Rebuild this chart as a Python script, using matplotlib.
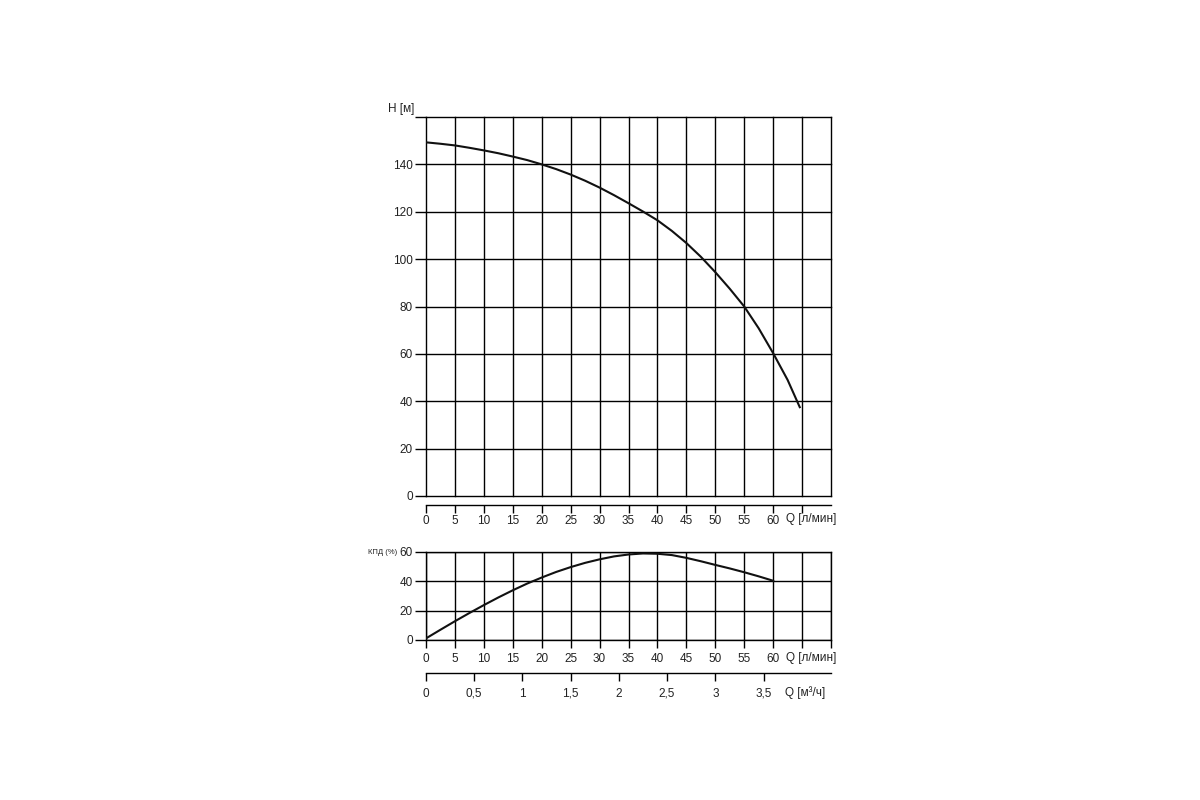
import matplotlib
matplotlib.use("Agg")
import matplotlib.pyplot as plt

plt.rcParams["font.family"] = ["Liberation Sans", "DejaVu Sans"]

# напорная характеристика H(Q)
q_head = [0, 2.5, 5, 7.5, 10, 12.5, 15, 17.5, 20, 22.5, 25, 27.5, 30, 32.5, 35,
          37.5, 40, 42.5, 45, 47.5, 50, 52.5, 55, 57.5, 60, 62.5, 64.6]
head = [149.3, 148.7, 148.0, 147.0, 145.9, 144.7, 143.3, 141.8, 140.0, 138.0, 135.7, 133.1, 130.2, 127.0, 123.6,
        120.1, 116.4, 111.9, 106.8, 101.0, 94.5, 87.5, 80.0, 70.8, 60.3, 49.0, 37.5]

# КПД(Q)
q_eff = [0, 2.5, 5, 7.5, 10, 12.5, 15, 17.5, 20, 22.5, 25, 27.5, 30, 32.5, 35,
         37.5, 40, 42.5, 45, 47.5, 50, 52.5, 55, 57.5, 60]
eff = [1.1, 7.0, 12.8, 18.4, 23.8, 29.0, 33.9, 38.5, 42.6, 46.4, 49.7, 52.6, 55.0, 57.0, 58.3,
       59.0, 58.8, 57.9, 56.0, 53.7, 51.2, 48.8, 46.2, 43.4, 40.4]

q_grid = list(range(0, 71, 5))
q_ticks = list(range(0, 66, 5))
q_labels = [str(v) for v in range(0, 61, 5)] + [""]
h_ticks = list(range(0, 161, 20))
h_labels = [str(v) for v in range(0, 141, 20)] + [""]
eff_ticks = [0, 20, 40, 60]
m3_ticks = [0, 0.5, 1, 1.5, 2, 2.5, 3, 3.5]
m3_labels = ["0", "0,5", "1", "1,5", "2", "2,5", "3", "3,5"]

FS = 8.5
LW_GRID = 1.0
LW_CURVE = 1.5
INK = "#111111"
TXT = "#222222"

fig = plt.figure(figsize=(12, 8), dpi=100)

# --- верхний график: напор ---
ax1 = fig.add_axes([0.355, 0.38, 0.3375, 0.47375])
ax1.set_xlim(0, 70)
ax1.set_ylim(0, 160)
for q in q_grid:
    ax1.axvline(q, color="black", lw=LW_GRID, clip_on=False, zorder=1)
for h in h_ticks:
    ax1.axhline(h, color="black", lw=LW_GRID, clip_on=False, zorder=1)
ax1.set_xticks(q_ticks, q_labels)
ax1.set_yticks(h_ticks, h_labels)
ax1.tick_params(axis="y", direction="out", length=8, width=LW_GRID, pad=1.5, labelsize=FS, labelcolor=TXT)
ax1.tick_params(axis="x", direction="out", length=5.5, width=LW_GRID, pad=1.5, labelsize=FS, labelcolor=TXT)
for side in ["left", "right", "top"]:
    ax1.spines[side].set_visible(False)
ax1.spines["bottom"].set_linewidth(LW_GRID)
ax1.spines["bottom"].set_position(("outward", 6.5))
ax1.plot(q_head, head, color=INK, lw=LW_CURVE, zorder=3, solid_joinstyle="round")

fig.text(0.345, 0.864, "H [м]", ha="right", va="center", fontsize=FS, color=TXT)
fig.text(0.655, 0.351, "Q [л/мин]", ha="left", va="center", fontsize=FS, color=TXT)

# --- нижний график: КПД ---
ax2 = fig.add_axes([0.355, 0.2, 0.3375, 0.11])
ax2.set_xlim(0, 70)
ax2.set_ylim(0, 60)
ax2.set_xticks(q_grid, q_labels + [""])
ax2.set_yticks(eff_ticks)
ax2.grid(True, color="black", lw=LW_GRID)
ax2.tick_params(axis="y", direction="out", length=8, width=LW_GRID, pad=1.5, labelsize=FS, labelcolor=TXT)
ax2.tick_params(axis="x", direction="out", length=6, width=LW_GRID, pad=3, labelsize=FS, labelcolor=TXT)
for side in ["left", "right", "top", "bottom"]:
    ax2.spines[side].set_linewidth(LW_GRID)
ax2.set_axisbelow(True)
ax2.plot(q_eff, eff, color=INK, lw=LW_CURVE, zorder=3, solid_joinstyle="round")

fig.text(0.331, 0.31, "КПД (%)", ha="right", va="center", fontsize=5.5, color=TXT)
fig.text(0.655, 0.1775, "Q [л/мин]", ha="left", va="center", fontsize=FS, color=TXT)

# --- шкала в м³/ч ---
sec = ax2.secondary_xaxis(-0.375, functions=(lambda q: q * 60 / 1000, lambda v: v * 1000 / 60))
sec.set_xticks(m3_ticks, m3_labels)
sec.tick_params(direction="out", length=5.5, width=LW_GRID, pad=5, labelsize=FS, labelcolor=TXT)
sec.spines["bottom"].set_linewidth(LW_GRID)
fig.text(0.654, 0.134, "Q [м³/ч]", ha="left", va="center", fontsize=FS, color=TXT)

fig.savefig("out.png", dpi=100)
